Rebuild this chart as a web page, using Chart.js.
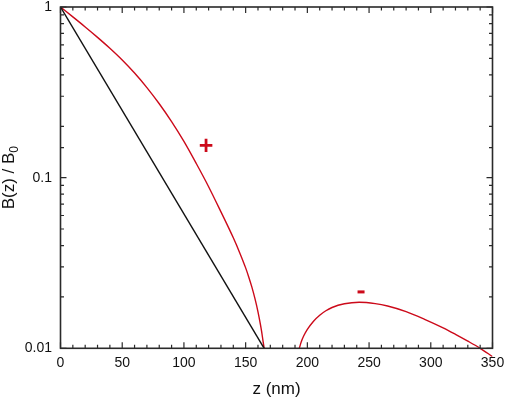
<!DOCTYPE html>
<html>
<head>
<meta charset="utf-8">
<script src="https://cdn.jsdelivr.net/npm/chart.js@4/dist/chart.umd.min.js"></script>
<style>
  html, body { margin: 0; padding: 0; background: #fff; }
  #wrap { width: 505px; height: 399px; }
</style>
</head>
<body>
<div id="wrap"><canvas id="bChart"></canvas></div>
<script>
// z in nm, B(z)/B0
const zPlus = [0, 10, 20, 30, 40, 50, 60, 70, 80, 90, 100, 110, 120, 130, 140, 145, 150, 152.5, 155, 157.5, 160, 162, 163, 164, 165];
const bPlus = [1, 0.875, 0.764, 0.664, 0.573, 0.489, 0.41, 0.337, 0.271, 0.213, 0.163, 0.121, 0.0885, 0.063, 0.0444,
    0.0366, 0.0296, 0.0262, 0.0229, 0.0196, 0.01637, 0.01377, 0.01247, 0.01114, 0.01];

const zMinus = [193.5, 195, 197, 200, 205, 210, 215, 220, 230, 242, 255, 265, 280, 295, 310, 320, 330, 340, 350];
const bMinus = [0.01, 0.01089, 0.0118, 0.01291, 0.01442, 0.01563, 0.0166, 0.01734, 0.01824, 0.01862,
    0.01828, 0.0177, 0.01641, 0.01479, 0.01318, 0.01208, 0.01102, 0.01, 0.00895];

const zExp = [0, 165];
const bExp = [1, 0.01];

const xLabels = [0, 50, 100, 150, 200, 250, 300, 350];
const yLabels = [0.01, 0.1, 1];

const RED = '#cc0a1a';
const AXIS = '#2a2a2a';
const FONT = '"Liberation Sans", Arial, sans-serif';

const pts = (xs, ys) => xs.map((x, i) => ({ x: x, y: ys[i] }));

const framePlugin = {
    id: 'frame',
    afterDraw(chart) {
        const c = chart.ctx;
        const a = chart.chartArea;
        const xs = chart.scales.x;
        const ys = chart.scales.y;
        c.save();
        c.strokeStyle = AXIS;
        c.lineWidth = 1.2;
        c.beginPath();
        xs.ticks.forEach(t => {
            const px = xs.getPixelForValue(t.value);
            const len = xLabels.includes(t.value) ? 6 : 3.5;
            c.moveTo(px, a.bottom); c.lineTo(px, a.bottom - len);
            c.moveTo(px, a.top); c.lineTo(px, a.top + len);
        });
        ys.ticks.forEach(t => {
            const py = ys.getPixelForValue(t.value);
            const major = Math.abs(Math.log10(t.value) - Math.round(Math.log10(t.value))) < 1e-6;
            const len = major ? 6 : 3.5;
            c.moveTo(a.left, py); c.lineTo(a.left + len, py);
            c.moveTo(a.right, py); c.lineTo(a.right - len, py);
        });
        c.stroke();
        c.lineWidth = 1.6;
        c.strokeRect(a.left, a.top, a.right - a.left, a.bottom - a.top);

        // axis titles
        c.fillStyle = '#111';
        c.font = '17px ' + FONT;
        c.textAlign = 'center';
        c.textBaseline = 'alphabetic';
        c.fillText('z (nm)', (a.left + a.right) / 2, 394);

        c.translate(14, (a.top + a.bottom) / 2);
        c.rotate(-Math.PI / 2);
        const main = 'B(z) / B';
        const w1 = c.measureText(main).width;
        c.font = '12px ' + FONT;
        const w2 = c.measureText('0').width;
        const x0 = -(w1 + w2) / 2;
        c.font = '17px ' + FONT;
        c.textAlign = 'left';
        c.fillText(main, x0, 0);
        c.font = '12px ' + FONT;
        c.fillText('0', x0 + w1, 3.5);
        c.restore();

        // sign markers
        c.save();
        c.fillStyle = RED;
        c.font = 'bold 25px ' + FONT;
        c.textAlign = 'center';
        c.textBaseline = 'middle';
        c.fillText('+', xs.getPixelForValue(118), ys.getPixelForValue(0.148) - 1);
        c.fillRect(xs.getPixelForValue(243.5) - 3.5, ys.getPixelForValue(0.0214) - 1.5, 7, 3);
        c.restore();
    }
};

new Chart(document.getElementById('bChart'), {
    type: 'scatter',
    data: {
        datasets: [
            { data: pts(zExp, bExp), borderColor: '#111', borderWidth: 1.4, showLine: true, pointRadius: 0 },
            { data: pts(zPlus, bPlus), borderColor: RED, borderWidth: 1.4, showLine: true, pointRadius: 0, cubicInterpolationMode: 'monotone' },
            { data: pts(zMinus, bMinus), borderColor: RED, borderWidth: 1.4, showLine: true, pointRadius: 0, cubicInterpolationMode: 'monotone',
              clip: { left: 0, top: 0, right: 0, bottom: 12 } }
        ]
    },
    options: {
        responsive: true,
        maintainAspectRatio: false,
        animation: false,
        layout: { padding: { left: 0, right: 12.5, top: 7, bottom: 0 } },
        plugins: { legend: { display: false }, tooltip: { enabled: false } },
        scales: {
            x: {
                type: 'linear',
                min: 0,
                max: 350,
                grid: { display: false, drawTicks: false },
                border: { display: false },
                ticks: {
                    stepSize: 10,
                    autoSkip: false,
                    maxRotation: 0,
                    padding: 6,
                    color: '#111',
                    font: { family: FONT, size: 14 },
                    callback: v => xLabels.includes(v) ? String(v) : ''
                },
                afterFit: s => { s.height = 50.7; s.paddingLeft = 0; s.paddingRight = 0; }
            },
            y: {
                type: 'logarithmic',
                min: 0.01,
                max: 1,
                grid: { display: false, drawTicks: false },
                border: { display: false },
                ticks: {
                    autoSkip: false,
                    padding: 8.5,
                    color: '#111',
                    font: { family: FONT, size: 14 },
                    callback: v => yLabels.includes(v) ? String(v) : ''
                },
                afterFit: s => { s.width = 60.5; s.paddingTop = 0; s.paddingBottom = 0; }
            }
        }
    },
    plugins: [framePlugin]
});
</script>
</body>
</html>
